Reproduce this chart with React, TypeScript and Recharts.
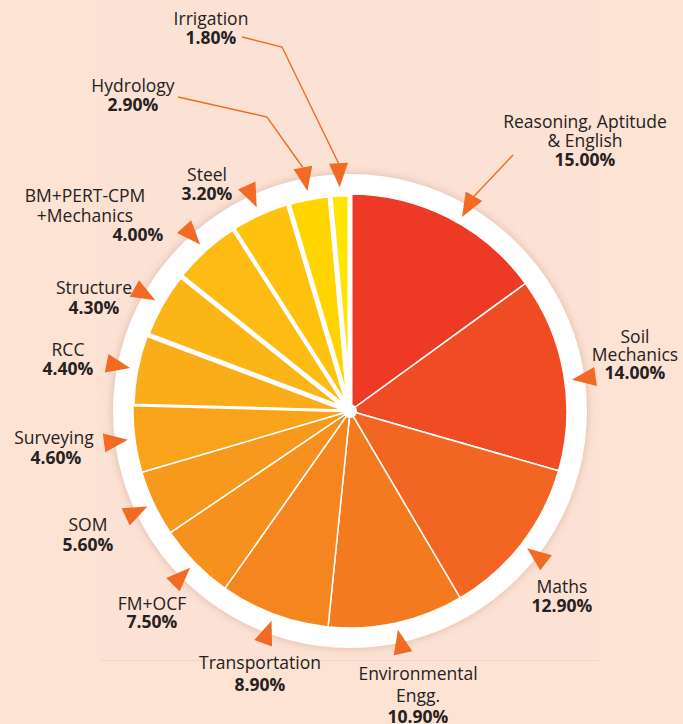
import React from "react";
import { PieChart, Pie, Cell } from "recharts";

// subjects, clockwise from 12 o'clock
const subjectLines = [
  ["Reasoning, Aptitude", "& English"],
  ["Soil", "Mechanics"],
  ["Maths"],
  ["Environmental", "Engg."],
  ["Transportation"],
  ["FM+OCF"],
  ["SOM"],
  ["Surveying"],
  ["RCC"],
  ["Structure"],
  ["BM+PERT-CPM", "+Mechanics"],
  ["Steel"],
  ["Hydrology"],
  ["Irrigation"],
];

// weightage printed on the labels (%)
const shares = [15.0, 14.0, 12.9, 10.9, 8.9, 7.5, 5.6, 4.6, 4.4, 4.3, 4.0, 3.2, 2.9, 1.8];

// angular size of each slice as drawn in the original (degrees) -
// the small subjects are drawn wider than their share
const sliceDegrees = [54, 52, 43.5, 36.3, 29.4, 20.7, 17.7, 18, 19, 18, 18.8, 16, 11.3, 5.3];

const colors = [
  "#EE3A24", "#F04C23", "#F26522", "#F47A20", "#F5851F", "#F6911E", "#F7991D",
  "#F9A31B", "#FAAC19", "#FCB516", "#FDBB14", "#FFC20F", "#FFD500", "#FFE500",
];

// white gap between slices gets wider on the upper left
const gapWidths = [1.5, 1.5, 1.5, 1.5, 1.5, 1.5, 1.5, 1.5, 3, 5, 4.5, 4, 5, 5];

const data = subjectLines.map((lines, i) => ({
  name: lines.join(" "),
  value: sliceDegrees[i],
  share: shares[i],
}));

const ORANGE = "#F26A24";
const TEXT = "#252121";
const FONT = "'Open Sans', sans-serif";
const FS = 17.5;
const RAD = Math.PI / 180;

// label placement relative to pie centre
type Place = { dx: number; dy: number; lh?: number; pctDx?: number; turn?: number; leader?: number[][] };
const places: Place[] = [
  { dx: 235, dy: -290, turn: -3, leader: [[163, -256]] },
  { dx: 285, dy: -75, lh: 18, turn: -2 },
  { dx: 212, dy: 175 },
  { dx: 68, dy: 262, lh: 21.5 },
  { dx: -90, dy: 251, lh: 22 },
  { dx: -198, dy: 192, lh: 18 },
  { dx: -262, dy: 113, lh: 20 },
  { dx: -296, dy: 26, lh: 20, pctDx: 2 },
  { dx: -282, dy: -62, lh: 19 },
  { dx: -256, dy: -124, lh: 20 },
  { dx: -265, dy: -216, lh: 19.5, pctDx: 53 },
  { dx: -143, dy: -237, lh: 19 },
  { dx: -217, dy: -326, leader: [[-172, -314], [-83, -294]] },
  { dx: -139, dy: -393, leader: [[-108, -374], [-68, -364]] },
];

const polar = (cx: number, cy: number, r: number, a: number) => [
  cx + r * Math.cos(-a * RAD),
  cy + r * Math.sin(-a * RAD),
];

function renderLabel(props: any) {
  const { cx, cy, midAngle, outerRadius, index } = props;
  const p = places[index];
  const a = midAngle + (p.turn ?? 0);
  const tip = polar(cx, cy, outerRadius + 7, a);
  const base = polar(cx, cy, outerRadius + 31, a);
  const vx = -Math.sin(-a * RAD) * 9.5;
  const vy = Math.cos(-a * RAD) * 9.5;
  const tri = `${tip[0]},${tip[1]} ${base[0] + vx},${base[1] + vy} ${base[0] - vx},${base[1] - vy}`;
  const lh = p.lh ?? 19;
  const lines = subjectLines[index];
  const x = cx + p.dx;
  const y0 = cy + p.dy;
  let leader = null;
  if (p.leader) {
    const pts = p.leader.map(([lx, ly]) => `${cx + lx},${cy + ly}`);
    pts.push(`${base[0]},${base[1]}`);
    leader = <polyline points={pts.join(" ")} fill="none" stroke={ORANGE} strokeWidth={1.4} />;
  }
  return (
    <g key={`lbl-${index}`}>
      {leader}
      <polygon points={tri} fill={ORANGE} />
      {lines.map((t, i) => (
        <text key={i} x={x} y={y0 + i * lh} textAnchor="middle" dominantBaseline="central"
          fontSize={FS} fill={TEXT} fontFamily={FONT}>
          {t}
        </text>
      ))}
      <text x={x + (p.pctDx ?? 0)} y={y0 + lines.length * lh} textAnchor="middle" dominantBaseline="central"
        fontSize={FS} fontWeight={700} fill={TEXT} fontFamily={FONT}>
        {`${data[index].share.toFixed(2)}%`}
      </text>
    </g>
  );
}

export default function App() {
  return (
    <div style={{ position: "absolute", left: 0, top: 0, width: 683, height: 724, background: "#FDE3D4", overflow: "hidden" }}>
      <div style={{ position: "absolute", left: 100, top: 0, width: 499, height: 660, background: "#FCE2D5", borderBottom: "1px solid #F4D6C8" }} />
      <div style={{ position: "absolute", left: 0, top: 0 }}>
        <PieChart width={683} height={724} margin={{ top: 0, right: 0, bottom: 0, left: 0 }}>
          <Pie data={[{ name: "ring", value: 1 }]} dataKey="value" cx={350} cy={411} outerRadius={237}
            stroke="none" isAnimationActive={false}>
            <Cell fill="#FFFFFF" style={{ filter: "drop-shadow(0px 0px 5px rgba(170,110,80,0.35))" }} />
          </Pie>
          <Pie data={data} dataKey="value" nameKey="name" cx={350} cy={411} outerRadius={217}
            startAngle={90} endAngle={-270} label={renderLabel} labelLine={false}
            isAnimationActive={false}>
            {data.map((d, i) => (
              <Cell key={d.name} fill={colors[i]} stroke="#FFFFFF" strokeWidth={gapWidths[i]} />
            ))}
          </Pie>
          <Pie data={[{ name: "hub", value: 1 }]} dataKey="value" cx={350} cy={411} outerRadius={7}
            stroke="none" isAnimationActive={false}>
            <Cell fill="#FFFFFF" />
          </Pie>
        </PieChart>
      </div>
    </div>
  );
}
